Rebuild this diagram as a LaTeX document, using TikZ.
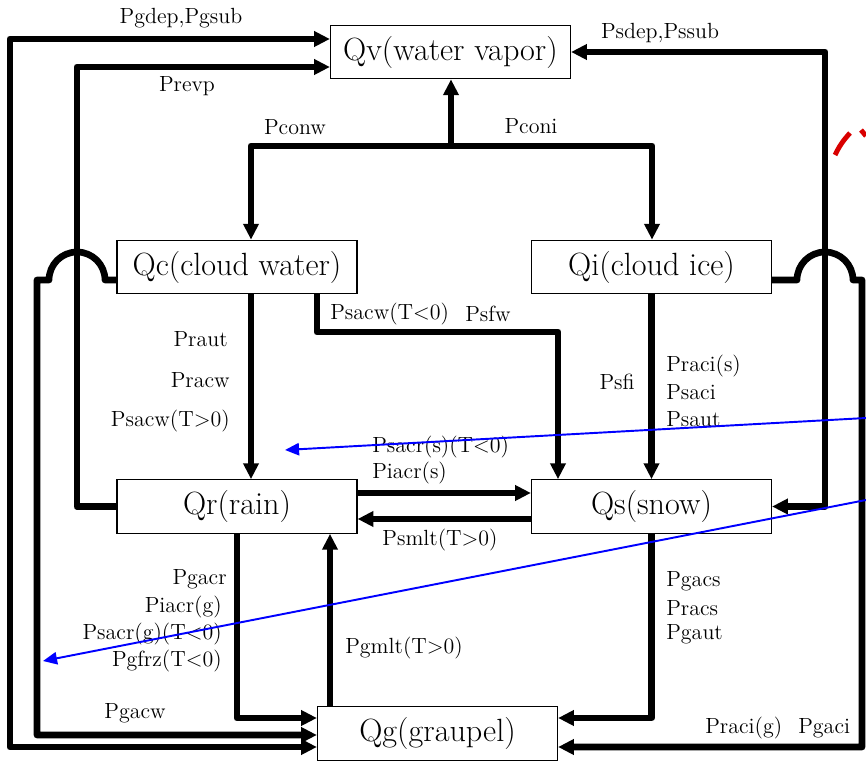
\documentclass[tikz,border=0pt]{standalone}
\usepackage{tikz}
\usetikzlibrary{arrows.meta}
\newcommand{\qnode}{\node[draw,line width=0.7pt,minimum width=4.8cm,minimum height=1.07cm,inner sep=0pt,font=\fontsize{18.3}{21}\selectfont]}
\newcommand{\pnode}{\node[inner sep=0pt,font=\fontsize{12.5}{14}\selectfont]}
\tikzset{
  >={Triangle[length=9pt,width=8.5pt]},
  flow/.style={line width=3.8pt,line join=round,->},
  flowboth/.style={flow,<->},
  note/.style={blue,line width=1.1pt,-{Triangle[length=8pt,width=7pt]}}
}

\begin{document}
\begin{tikzpicture}[x=0.02cm,y=-0.02cm]
      \useasboundingbox (0,0) rectangle (866,763);
      % species
      \qnode (Qv) at (450.5,52) {Qv(water vapor)};
      \qnode (Qc) at (237,267) {Qc(cloud water)};
      \qnode (Qi) at (651.5,267) {Qi(cloud ice)};
      \qnode (Qr) at (237,506.5) {Qr(rain)};
      \qnode (Qs) at (651.5,506.5) {Qs(snow)};
      \qnode (Qg) at (437.5,733.5) {Qg(graupel)};
      % condensation / deposition
      \coordinate (split) at (451,146);
      \draw[flow] (split) -- (split |- Qv.south);
      \draw[flow] (split) -- (251,146) -- (251,0 |- Qc.north);
      \draw[flow] (split) -- (652,146) -- (652,0 |- Qi.north);
      \pnode (pconw) at (295,127) {Pconw};
      \pnode (pconi) at (531,126) {Pconi};
      % outer loops
      \draw[flowboth] (Qg.west |- 0,747) -- (10,747) -- (10,39) -- (Qv.west |- 0,39);
      \pnode (pgdep) at (181,18) {Pgdep,Pgsub};
      \draw[flow] (Qr.west) -- (77,0 |- Qr.west) -- (77,67) -- (Qv.west |- 0,67);
      \pnode (prevp) at (187,86) {Prevp};
      \draw[flowboth] (Qv.east) -- (825,0 |- Qv.east) -- (825,0 |- Qs.east) -- (Qs.east);
      \pnode (psdep) at (660,33) {Psdep,Pssub};
      \draw[flow] (Qc.west |- 0,280) -- (105,280) arc[start angle=0,end angle=180,radius=0.56cm]
            -- (37,280) -- (37,735) -- (Qg.west |- 0,735);
      \pnode (pgacw) at (135,713) {Pgacw};
      \draw[flow] (Qi.east |- 0,280) -- (797,280) arc[start angle=180,end angle=0,radius=0.56cm]
            -- (862,280) -- (862,747) -- (Qg.east |- 0,747);
      \pnode[anchor=west] (pracig) at (705,728) {Praci(g)};
      \pnode[anchor=west] (pgaci) at (798,728) {Pgaci};
      % cloud water
      \draw[flow] (251,0 |- Qc.south) -- (251,0 |- Qr.north);
      \pnode[anchor=east] (praut) at (228,339) {Praut};
      \pnode[anchor=east] (pracw) at (230,380) {Pracw};
      \pnode[anchor=east] (psacwp) at (230,421) {Psacw(T>0)};
      \draw[flow] (317,0 |- Qc.south) -- (317,332) -- (558,332) -- (558,0 |- Qs.north);
      \pnode[anchor=west] (psacwm) at (330,314) {Psacw(T<0)};
      \pnode[anchor=west] (psfw) at (465,314) {Psfw};
      % cloud ice
      \draw[flow] (Qi.south) -- (Qs.north);
      \pnode[anchor=east] (psfi) at (635,382) {Psfi};
      \pnode[anchor=west] (pracis) at (666,366) {Praci(s)};
      \pnode[anchor=west] (psaci) at (666,392) {Psaci};
      \pnode[anchor=west] (psaut) at (666,419) {Psaut};
      % rain and snow
      \draw[flow] (Qr.east |- 0,493) -- (Qs.west |- 0,493);
      \draw[flow] (Qs.west |- 0,519) -- (Qr.east |- 0,519);
      \pnode[anchor=west] (psacrs) at (372,447) {Psacr(s)(T<0)};
      \pnode[anchor=west] (piacrs) at (372,473) {Piacr(s)};
      \pnode (psmlt) at (440,540) {Psmlt(T>0)};
      % graupel
      \draw[flow] (Qr.south) -- (Qr.south |- 0,718) -- (Qg.west |- 0,718);
      \pnode[anchor=east] (pgacr) at (227,579) {Pgacr};
      \pnode[anchor=east] (piacrg) at (222,607) {Piacr(g)};
      \pnode[anchor=east] (psacrg) at (222,634) {Psacr(g)(T<0)};
      \pnode[anchor=east] (pgfrz) at (222,661) {Pgfrz(T<0)};
      \draw[flow] (330,0 |- Qg.north) -- (330,0 |- Qr.south);
      \pnode[anchor=west] (pgmlt) at (345,648) {Pgmlt(T>0)};
      \draw[flow] (Qs.south) -- (Qs.south |- 0,718) -- (Qg.east |- 0,718);
      \pnode[anchor=west] (pgacs) at (666,581) {Pgacs};
      \pnode[anchor=west] (pracs) at (666,608) {Pracs};
      \pnode[anchor=west] (pgaut) at (666,634) {Pgaut};
      % overlaid marks
      \coordinate (blueA) at (866,418);
      \coordinate (blueAtip) at (285,450);
      \coordinate (blueB) at (866,500);
      \coordinate (blueBtip) at (43,661);
      \draw[note] (blueA) -- (blueAtip);
      \draw[note] (blueB) -- (blueBtip);
      \draw[red!85!black,line width=2.8pt] (835,155) to[bend left=8] (850,133);
      \draw[red!85!black,line width=2.8pt] (861,130) -- (866,136);
\end{tikzpicture}
\end{document}
